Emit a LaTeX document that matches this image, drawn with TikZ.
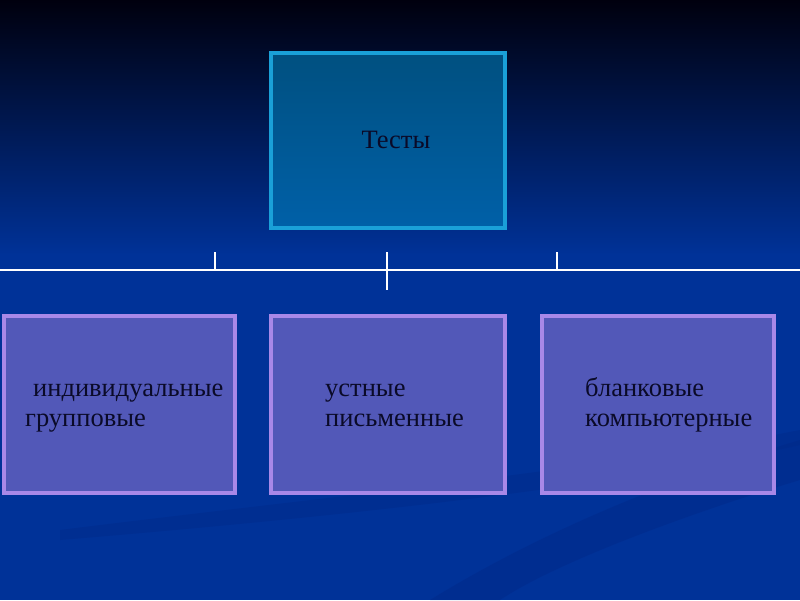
\documentclass[tikz,border=0pt]{standalone}
\usepackage{fontspec}
\setmainfont{Liberation Serif}
\definecolor{bgtop}{RGB}{0,0,14}
\definecolor{bgbot}{RGB}{0,50,152}
\definecolor{swoosh}{RGB}{0,40,136}
\definecolor{topedge}{RGB}{26,160,216}
\definecolor{topfillA}{RGB}{0,80,128}
\definecolor{topfillB}{RGB}{0,96,168}
\definecolor{subedge}{RGB}{168,136,232}
\definecolor{subfill}{RGB}{82,88,184}
\definecolor{ink}{RGB}{10,10,40}
\begin{document}
\begin{tikzpicture}[x=1pt,y=-1pt,
  topbox/.style={draw=topedge, line width=4pt, top color=topfillA, bottom color=topfillB},
  subbox/.style={draw=subedge, line width=4pt, fill=subfill},
  txt/.style={text=ink, font=\fontsize{26.5}{30}\selectfont, inner sep=0pt},
  tree/.style={draw=white, line width=2pt}]
\useasboundingbox (0,0) rectangle (800,600);
\shade[top color=bgtop, bottom color=bgbot] (0,0) rectangle (800,255);
\fill[bgbot] (0,254) rectangle (800,600);
% faint swooshes
\fill[swoosh, opacity=0.45] (430,600) .. controls (560,520) and (700,470) .. (800,440) -- (800,480) .. controls (700,510) and (560,560) .. (500,600) -- cycle;
\fill[swoosh, opacity=0.4] (60,530) .. controls (300,500) and (600,470) .. (800,430) -- (800,445) .. controls (600,490) and (300,520) .. (60,540) -- cycle;
% boxes
\node[topbox, minimum width=234, minimum height=175, anchor=north west] (top) at (269,51) {};
\node[subbox, minimum width=231, minimum height=177, anchor=north west] (b1) at (2,314) {};
\node[subbox, minimum width=234, minimum height=177, anchor=north west] (b2) at (269,314) {};
\node[subbox, minimum width=232, minimum height=177, anchor=north west] (b3) at (540,314) {};
% texts
\node[txt, anchor=base] (t0) at (396,148) {Тесты};
\node[txt, anchor=base west] (t1a) at (33,396) {индивидуальные};
\node[txt, anchor=base west] (t1b) at (25,426) {групповые};
\node[txt, anchor=base west] (t2a) at (325,396) {устные};
\node[txt, anchor=base west] (t2b) at (325,426) {письменные};
\node[txt, anchor=base west] (t3a) at (585,396) {бланковые};
\node[txt, anchor=base west] (t3b) at (585,426) {компьютерные};
% connectors
\coordinate (hl) at (0,270);
\coordinate (hr) at (800,270);
\coordinate (k1t) at (215,252); \coordinate (k1b) at (215,270);
\coordinate (k2t) at (387,252); \coordinate (k2b) at (387,290);
\coordinate (k3t) at (557,252); \coordinate (k3b) at (557,270);
\draw[tree] (hl) -- (hr);
\draw[tree] (k1t) -- (k1b);
\draw[tree] (k2t) -- (k2b);
\draw[tree] (k3t) -- (k3b);
\end{tikzpicture}
\end{document}
